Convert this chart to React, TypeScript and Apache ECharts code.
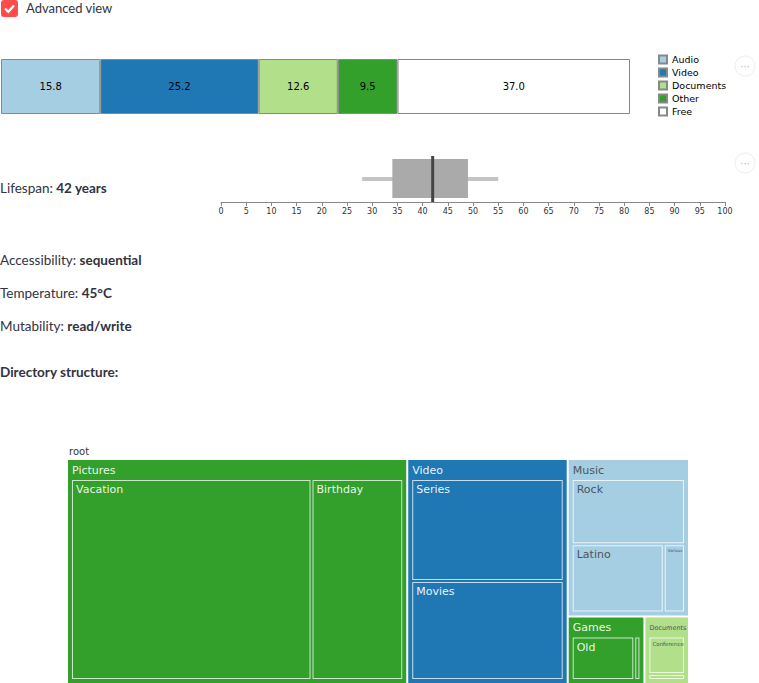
import React, { useEffect, useRef } from "react";
import * as echarts from "echarts";

// ---- data ----
const barCategories = ["Audio", "Video", "Documents", "Other", "Free"];
const barValues = [15.8, 25.2, 12.6, 9.5, 37.0];
const barColors = ["#a6cee3", "#1f78b4", "#b2df8a", "#33a02c", "#ffffff"];

const lifespanStats = [28, 34, 42, 49, 55]; // min, q1, median, q3, max
const lifespanAxis = { min: 0, max: 100, interval: 5 };

const infoLabels = ["Lifespan: ", "Accessibility: ", "Temperature: ", "Mutability: "];
const infoValues = ["42 years", "sequential", "45°C", "read/write"];

const treeParents = ["Pictures", "Video", "Music", "Games", "Documents"];
const treeColors = ["#33a02c", "#1f78b4", "#a6cee3", "#33a02c", "#b2df8a"];
const picturesNames = ["Vacation", "Birthday"];
const picturesValues = [39.6, 15.1];
const videoNames = ["Series", "Movies"];
const videoValues = [13.1, 12.7];
const musicNames = ["Rock", "Latino", "Various"];
const musicValues = [6.67, 5.67, 1.31];
const gamesNames = ["Old", "New"];
const gamesValues = [3.37, 0.33];
const documentsNames = ["Conference", "Personal"];
const documentsValues = [1.85, 0.3];

const FONT = "DejaVu Sans";
const PAGE_FONT = "Lato";

export default function App() {
  const ref = useRef<HTMLDivElement>(null);
  useEffect(() => {
    if (!ref.current) return;
    const chart = echarts.init(ref.current, undefined, { renderer: "svg" });
    const total = barValues.reduce((a, b) => a + b, 0);

    const childSets = [
      [picturesNames, picturesValues],
      [videoNames, videoValues],
      [musicNames, musicValues],
      [gamesNames, gamesValues],
      [documentsNames, documentsValues],
    ] as [string[], number[]][];
    const darkText = [true, true, false, true, false];
    const headerSize = [11, 11, 11, 11, 6.5];
    const leafSize: Record<string, number> = {
      Various: 4,
      Conference: 5.5,
      Personal: 3,
    };
    const treeData = treeParents.map((p, i) => {
      const [names, vals] = childSets[i];
      const txt = darkText[i] ? "rgba(255,255,255,0.92)" : "#4a5560";
      return {
        name: p,
        itemStyle: { color: treeColors[i], borderColor: treeColors[i] },
        upperLabel: { show: true, color: txt, fontSize: headerSize[i], overflow: "none" },
        children: names.map((n, j) => ({
          name: n,
          value: vals[j],
          itemStyle: { color: treeColors[i] },
          label: {
            color: txt,
            fontSize: leafSize[n] || 11,
            show: n !== "New",
            distance: leafSize[n] ? 2 : 3,
            overflow: "none",
          },
        })),
      };
    });

    const graphics: any[] = [
      {
        type: "rect",
        shape: { x: 1, y: 0, width: 17, height: 17, r: 3 },
        style: { fill: "#ff4b4b" },
      },
      {
        type: "polyline",
        shape: { points: [[5, 8.5], [8.3, 11.8], [14, 5.5]] },
        style: { stroke: "#ffffff", lineWidth: 2.2, fill: null },
      },
      {
        type: "text",
        x: 26,
        y: 8,
        style: {
          text: "Advanced view",
          fontFamily: PAGE_FONT,
          fontSize: 13,
          fill: "#31333f",
          verticalAlign: "middle",
        },
      },
      {
        type: "text",
        x: 69,
        y: 451,
        style: {
          text: "root",
          fontFamily: FONT,
          fontSize: 10,
          fill: "#333",
          verticalAlign: "middle",
        },
      },
      {
        type: "text",
        x: 0,
        y: 372,
        style: {
          text: "Directory structure:",
          fontFamily: PAGE_FONT,
          fontSize: 13.5,
          fontWeight: "bold",
          fill: "#31333f",
          verticalAlign: "middle",
        },
      },
    ];
    const infoY = [188, 260, 293, 326];
    infoLabels.forEach((l, i) => {
      graphics.push({
        type: "text",
        x: 0,
        y: infoY[i],
        style: {
          text: `{a|${l}}{b|${infoValues[i]}}`,
          verticalAlign: "middle",
          rich: {
            a: { fontFamily: PAGE_FONT, fontSize: 13.5, fill: "#31333f", color: "#31333f" },
            b: {
              fontFamily: PAGE_FONT,
              fontSize: 13.5,
              fontWeight: "bold",
              fill: "#31333f",
              color: "#31333f",
            },
          },
        },
      });
    });
    [66, 163].forEach((cy) => {
      graphics.push({
        type: "circle",
        shape: { cx: 745, cy, r: 10 },
        style: { fill: "#fff", stroke: "#eeeeee", lineWidth: 1 },
      });
      graphics.push({
        type: "text",
        x: 745,
        y: cy,
        style: {
          text: "···",
          fontFamily: FONT,
          fontSize: 10,
          fill: "#bbb",
          align: "center",
          verticalAlign: "middle",
        },
      });
    });

    chart.setOption({
      animation: false,
      graphic: graphics,
      legend: {
        orient: "vertical",
        left: 658,
        top: 54.5,
        padding: 0,
        itemWidth: 8,
        itemHeight: 8,
        itemGap: 3,
        icon: "rect",
        data: barCategories,
        selectedMode: false,
        textStyle: { fontFamily: FONT, fontSize: 9.5, color: "#000", lineHeight: 10 },
      },
      grid: [
        { left: 1, top: 59, width: 629, height: 55 },
        { left: 221, top: 155, width: 504, height: 47 },
      ],
      xAxis: [
        { type: "value", gridIndex: 0, min: 0, max: total, show: false },
        {
          type: "value",
          gridIndex: 1,
          min: lifespanAxis.min,
          max: lifespanAxis.max,
          interval: lifespanAxis.interval,
          axisLine: { show: true, lineStyle: { color: "#888", width: 1 } },
          axisTick: { show: true, length: 4, lineStyle: { color: "#888" } },
          axisLabel: { fontFamily: FONT, fontSize: 8, color: "#333", margin: 5 },
          splitLine: { show: false },
        },
      ],
      yAxis: [
        { type: "category", gridIndex: 0, data: ["Storage"], show: false },
        { type: "category", gridIndex: 1, data: ["Lifespan"], show: false },
      ],
      series: [
        ...barCategories.map((c, i) => ({
          type: "bar",
          name: c,
          stack: "total",
          xAxisIndex: 0,
          yAxisIndex: 0,
          barWidth: "100%",
          data: [barValues[i]],
          itemStyle: { color: barColors[i], borderColor: "#888", borderWidth: 1 },
          label: {
            show: true,
            position: "inside",
            formatter: (p: any) => Number(p.value).toFixed(1),
            fontFamily: FONT,
            fontSize: 10,
            color: "#000",
          },
        })),
        {
          type: "custom",
          xAxisIndex: 1,
          yAxisIndex: 1,
          data: [lifespanStats],
          encode: { x: [0, 1, 2, 3, 4] },
          renderItem: (params: any, api: any) => {
            const mn = api.coord([api.value(0), 0]);
            const q1 = api.coord([api.value(1), 0]);
            const md = api.coord([api.value(2), 0]);
            const q3 = api.coord([api.value(3), 0]);
            const mx = api.coord([api.value(4), 0]);
            const cy = mn[1];
            return {
              type: "group",
              children: [
                {
                  type: "rect",
                  shape: { x: mn[0], y: cy - 1.5, width: mx[0] - mn[0], height: 4 },
                  style: { fill: "#c4c4c4" },
                },
                {
                  type: "rect",
                  shape: { x: q1[0], y: cy - 19.5, width: q3[0] - q1[0], height: 39 },
                  style: { fill: "#aaaaaa" },
                },
                {
                  type: "rect",
                  shape: { x: md[0] - 1.5, y: cy - 22.5, width: 3, height: 46 },
                  style: { fill: "#444444" },
                },
              ],
            };
          },
        },
        {
          type: "treemap",
          left: 68,
          top: 460,
          width: 620,
          height: 223,
          squareRatio: 1,
          roam: false,
          nodeClick: false,
          breadcrumb: { show: false },
          label: {
            show: true,
            position: "insideTopLeft",
            padding: 0,
            distance: 3,
            fontFamily: FONT,
            fontSize: 11,
            color: "#fff",
          },
          upperLabel: {
            show: false,
            height: 20,
            fontFamily: FONT,
            fontSize: 11,
            color: "#fff",
          },
          levels: [
            {
              itemStyle: { borderWidth: 0, gapWidth: 2, borderColor: "#fff" },
              upperLabel: { show: false },
            },
            {
              itemStyle: { borderWidth: 4, gapWidth: 2 },
              upperLabel: { show: true, height: 20 },
            },
            {
              itemStyle: { borderWidth: 1, borderColor: "rgba(255,255,255,0.75)", gapWidth: 0 },
              upperLabel: { show: false },
            },
          ],
          data: treeData,
        },
      ],
    });
    return () => chart.dispose();
  }, []);
  return (
    <div
      ref={ref}
      style={{ position: "absolute", left: 0, top: 0, width: 759, height: 683, background: "#fff" }}
    />
  );
}
